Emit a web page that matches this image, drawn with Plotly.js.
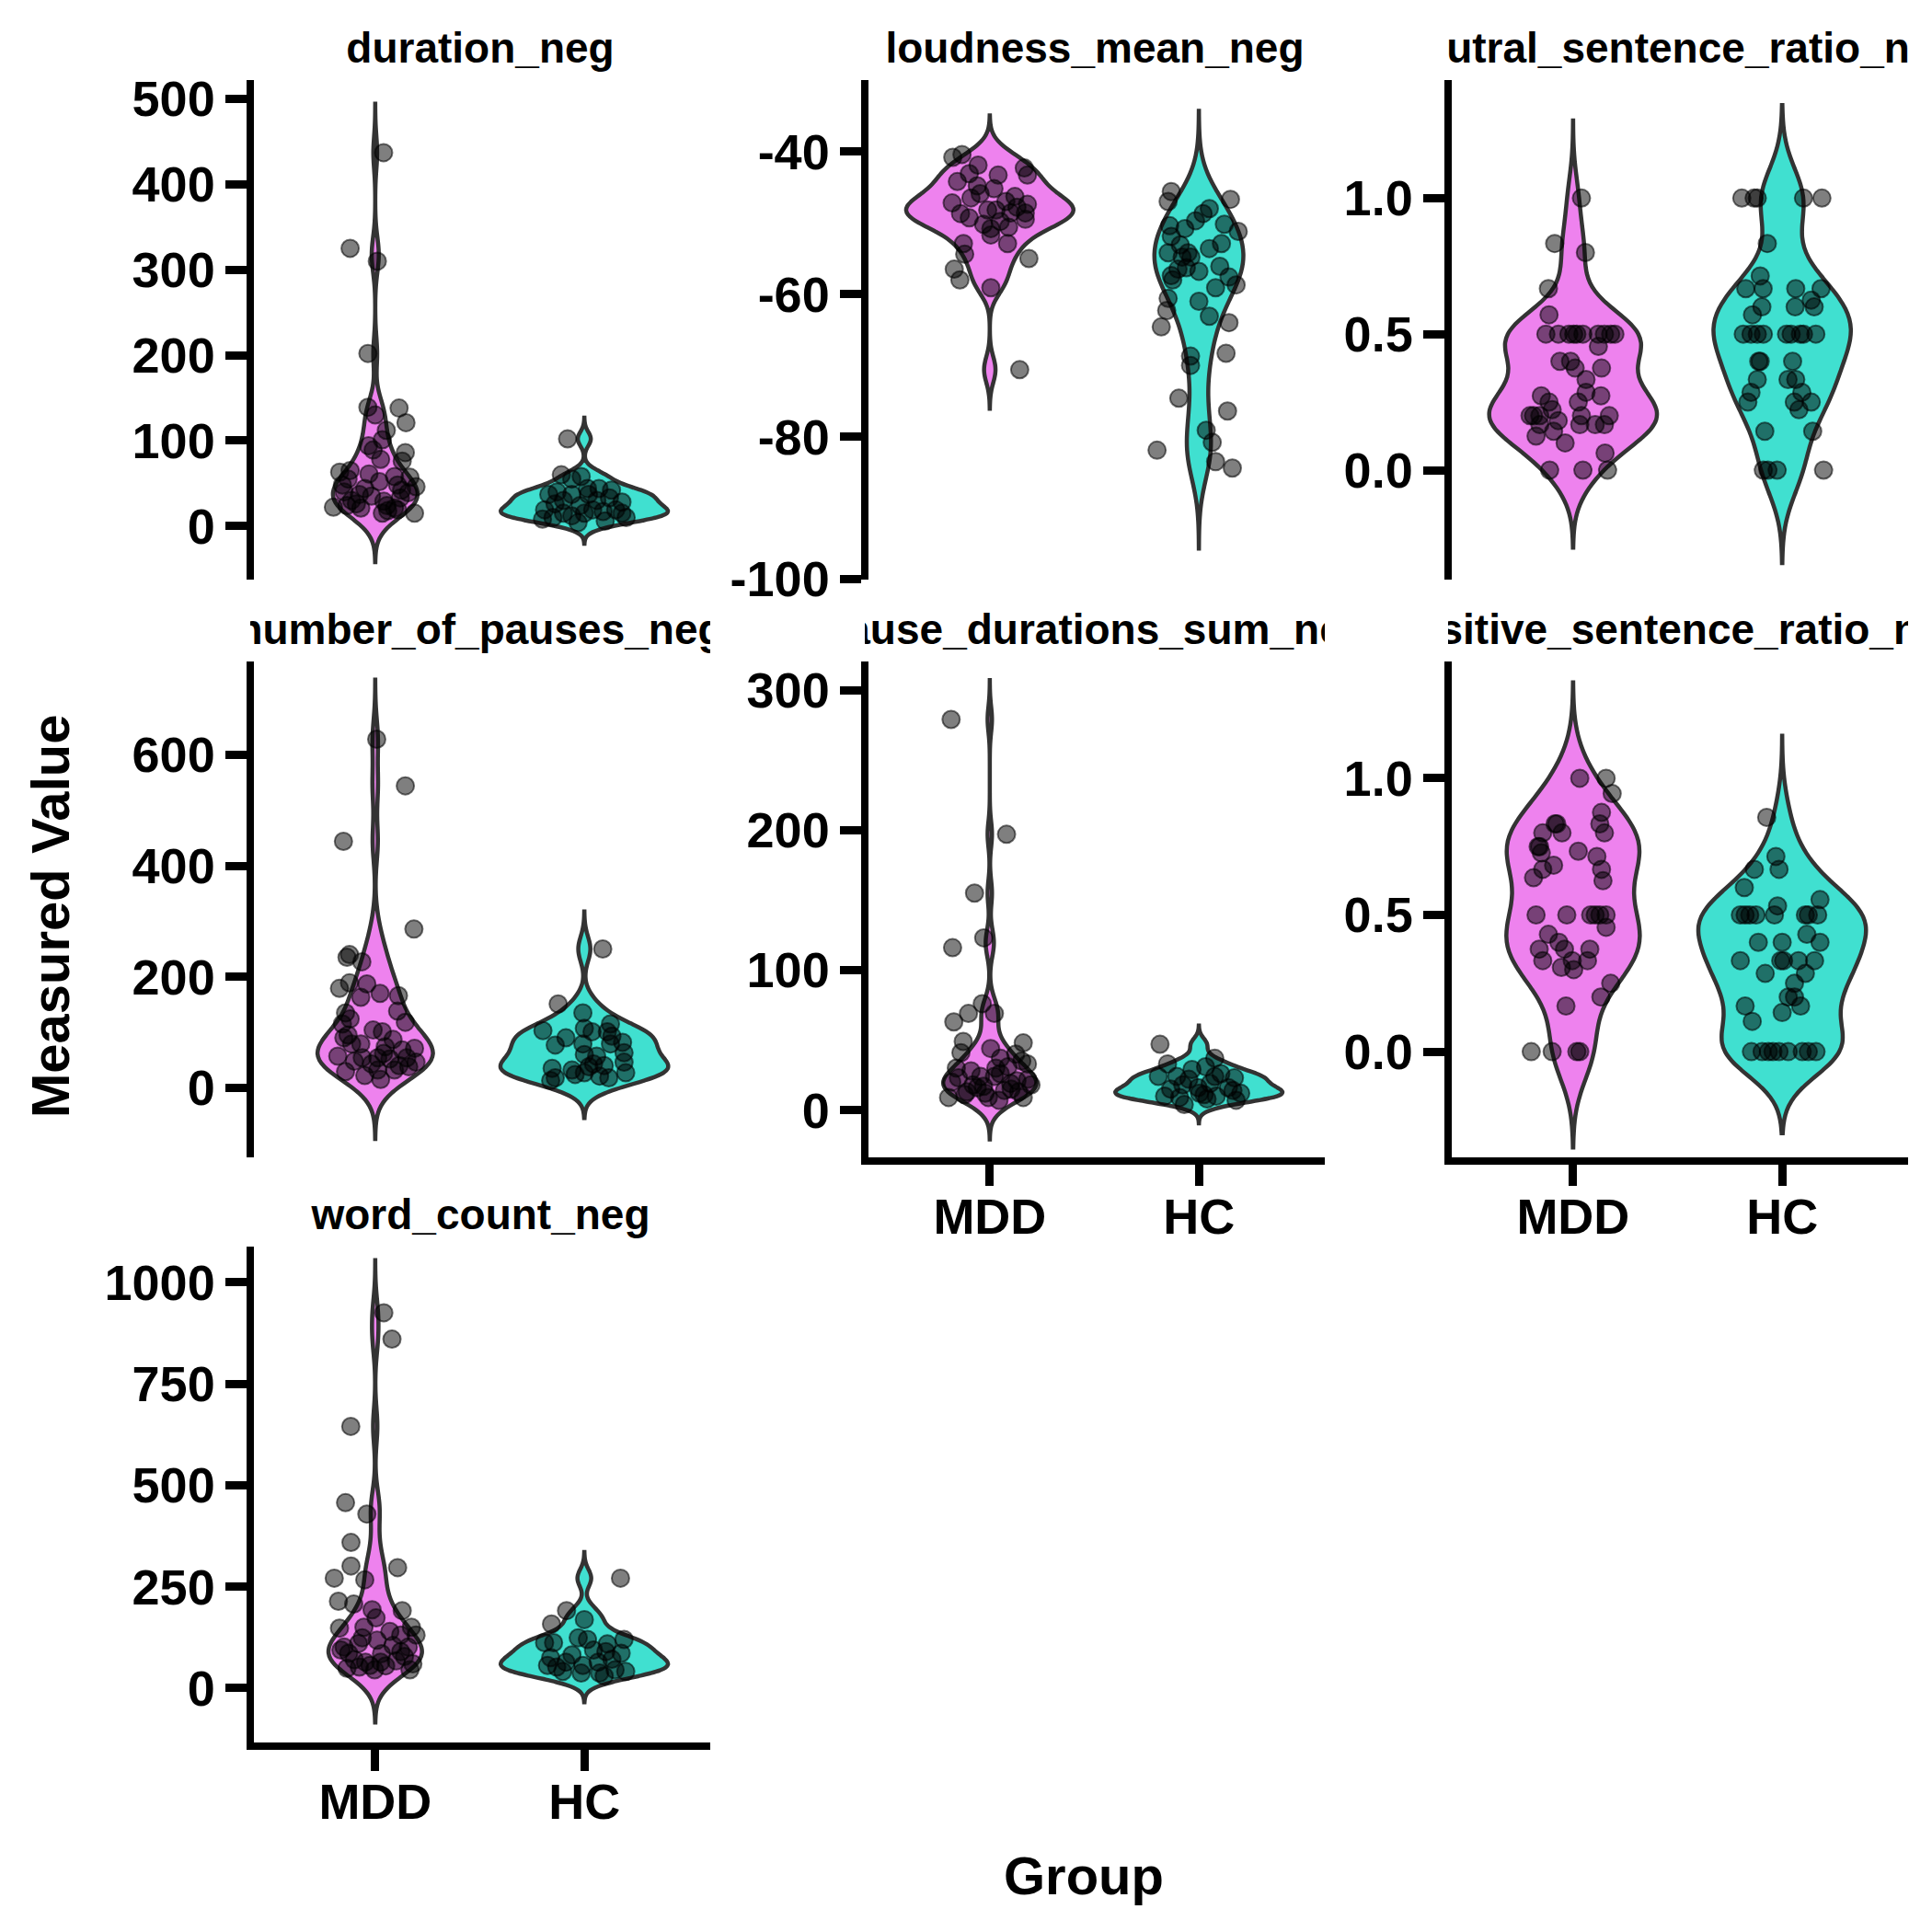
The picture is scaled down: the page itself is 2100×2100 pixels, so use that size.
<!DOCTYPE html>
<html>
<head>
<meta charset="utf-8">
<script src="https://cdn.plot.ly/plotly-3.0.1.min.js"></script>
<style>html, body { margin: 0; padding: 0; background: #fff; }</style>
</head>
<body>
<div id="chart" style="width:2100px;height:2100px"></div>
<script>
var groups = ['MDD', 'HC']; // x categories
var panelNames = ['duration_neg', 'loudness_mean_neg', 'neutral_sentence_ratio_neg', 'number_of_pauses_neg',
  'pause_durations_sum_neg', 'positive_sentence_ratio_neg', 'word_count_neg'];

var durationMdd = [437, 325, 310, 202, 139, 138, 130, 121, 112, 101, 86, 94, 89, 76, 78, 65, 61, 55, 58, 57, 48, 48, 46, 35, 30, 29, 22, 21, 15, 21, 15, 40, 42, 24, 19, 24, 37, 39, 18, 26, 33, 44, 52, 63];
var durationMddJit = [0.04, -0.12, 0.01, -0.035, -0.035, 0.114, 0, 0.147, 0.053, 0.034, 0.144, -0.032, -0.01, 0.129, 0.026, -0.12, -0.03, -0.13, 0.092, 0.166, -0.157, 0.107, 0.195, -0.018, -0.113, 0.041, -0.2, -0.069, 0.034, 0.092, 0.188, -0.149, 0.126, 0.056, 0.107, -0.135, -0.076, 0.158, 0.06, -0.09, 0.12, -0.05, 0.02, -0.17];
var durationHc = [102, 60, 58, 55, 37, 40, 30, 19, 8, 10, 15, 24, 44, 44, 42, 30, 33, 28, 17, 15, 10, 15, 12, 19, 19, 37, 37, 6, 26, 4];
var durationHcJit = [-0.08, -0.11, -0.015, -0.06, -0.17, -0.13, -0.1, -0.19, -0.2, -0.15, -0.1, -0.02, 0.015, 0.07, 0.13, 0.06, 0.12, 0.18, 0.09, 0.18, 0.2, 0, -0.06, 0.04, 0.15, 0.02, -0.06, 0.1, -0.14, -0.03];

var loudnessMdd = [-40.8, -40.4, -41.9, -43.1, -44.2, -44.8, -45.9, -46.5, -47.2, -48.7, -49.3, -48.2, -52.9, -54.4, -56.5, -58.0, -59.1, -43.3, -42.3, -43.3, -46.3, -47.0, -47.4, -48.2, -48.6, -48.6, -49.5, -50.8, -51.7, -50.6, -52.9, -55.0, -70.6, -49.8, -50.2, -47.8, -45.2];
var loudnessMddJit = [-0.177, -0.133, -0.056, -0.098, -0.155, -0.06, -0.046, -0.09, -0.18, -0.14, -0.098, -0.01, -0.126, -0.12, -0.17, -0.143, 0.005, 0.04, 0.165, 0.18, 0.12, 0.077, 0.18, 0.03, 0.1, 0.17, 0.17, 0.005, 0.005, 0.09, 0.085, 0.187, 0.143, 0.05, -0.03, 0.13, 0.02];
var loudnessHc = [-45.6, -47.0, -46.7, -48.0, -48.7, -49.7, -50.2, -51.2, -50.4, -50.8, -51.9, -52.9, -53.6, -53.1, -54.2, -54.2, -54.8, -54.8, -56.1, -56.5, -56.3, -56.8, -57.4, -58.0, -57.6, -58.7, -59.1, -60.6, -61.0, -62.3, -63.1, -64.0, -64.6, -68.3, -68.7, -70.0, -74.6, -76.4, -79.1, -80.8, -81.9, -83.5, -84.4];
var loudnessHcJit = [-0.132, -0.147, 0.151, 0.05, 0.02, -0.016, 0.122, 0.188, -0.14, -0.067, -0.132, 0.108, 0.05, -0.089, -0.147, -0.052, -0.08, -0.038, 0.1, -0.1, -0.06, 0, -0.132, -0.125, 0.144, 0.178, 0.08, -0.147, 0, -0.154, 0.05, 0.144, -0.18, 0.13, -0.04, -0.04, -0.096, 0.137, 0.035, 0.064, -0.2, 0.08, 0.16];

var neutralMdd = [1.0, 0.833, 0.8, 0.667, 0.571, 0.5, 0.5, 0.5, 0.5, 0.5, 0.5, 0.5, 0.5, 0.5, 0.5, 0.455, 0.4, 0.4, 0.375, 0.375, 0.333, 0.286, 0.273, 0.273, 0.25, 0.25, 0.2, 0.2, 0.2, 0.222, 0.2, 0.2, 0.182, 0.167, 0.167, 0.167, 0.167, 0.143, 0.125, 0.1, 0.0625, 0, 0, 0];
var neutralMddJit = [0.04, -0.088, 0.059, -0.118, -0.115, -0.13, -0.07, -0.02, 0.003, 0.018, 0.047, 0.12, 0.15, 0.18, 0.2, 0.121, -0.063, -0.012, 0.01, 0.136, 0.062, 0.062, -0.152, 0.133, 0.025, -0.115, -0.189, -0.206, -0.159, -0.1, 0.04, 0.173, -0.071, -0.159, 0.032, 0.106, 0.15, -0.093, -0.177, -0.038, 0.153, -0.112, 0.047, 0.165];
var neutralHc = [1.0, 1.0, 1.0, 1.0, 1.0, 0.833, 0.714, 0.667, 0.667, 0.667, 0.667, 0.625, 0.6, 0.6, 0.6, 0.571, 0.5, 0.5, 0.5, 0.5, 0.5, 0.5, 0.5, 0.5, 0.5, 0.4, 0.4, 0.4, 0.333, 0.333, 0.333, 0.286, 0.286, 0.25, 0.25, 0.25, 0.222, 0.143, 0.143, 0, 0, 0, 0];
var neutralHcJit = [-0.193, -0.134, -0.119, 0.102, 0.19, -0.071, -0.105, -0.174, -0.091, 0.065, 0.186, 0.139, -0.097, 0.062, 0.153, -0.142, -0.186, -0.149, -0.119, -0.09, 0.021, 0.043, 0.087, 0.102, 0.161, -0.112, -0.105, 0.05, -0.119, 0.028, 0.065, -0.149, 0.094, -0.164, 0.058, 0.139, 0.08, -0.083, 0.146, -0.09, -0.068, -0.024, 0.198];

var pausesMdd = [628, 544, 444, 286, 240, 235, 227, 189, 179, 187, 170, 166, 163, 135, 138, 124, 118, 115, 104, 101, 87, 90, 79, 79, 74, 68, 71, 57, 54, 54, 52, 54, 46, 29, 32, 32, 15, 40, 43, 22, 38, 48, 62, 95];
var pausesMddJit = [0.007, 0.144, -0.152, 0.185, -0.123, -0.135, -0.064, -0.123, -0.171, -0.04, 0.023, 0.111, -0.069, -0.142, 0.107, -0.12, 0.144, -0.157, -0.01, 0.034, 0.085, -0.15, -0.113, -0.069, 0.048, 0.129, 0.188, -0.179, -0.062, 0.012, 0.07, 0.151, 0.195, -0.142, 0.012, 0.092, 0.026, 0.114, -0.018, -0.05, 0.16, -0.1, 0.04, -0.13];
var pausesHc = [250, 151, 135, 103, 115, 107, 101, 101, 90, 77, 79, 79, 82, 63, 60, 57, 46, 35, 32, 43, 40, 27, 18, 13, 27, 21, 18, 24, 38, 93];
var pausesHcJit = [0.088, -0.125, -0.007, -0.198, 0.125, 0, 0.037, 0.11, -0.088, -0.139, -0.007, 0.125, 0.183, 0.19, 0, 0.059, 0.19, -0.154, -0.059, 0.044, 0.095, 0.198, -0.139, -0.161, 0, 0.073, 0.117, -0.044, 0.022, 0.132];

var pauseSumMdd = [279, 197, 155, 123, 116, 76, 69, 69, 63, 49, 48, 44, 41, 40, 35, 37, 30, 30, 31, 24, 20, 22, 24, 18, 15, 9, 12, 7, 9, 13, 13, 18, 9, 11, 14, 17, 21, 23, 26, 28, 33, 19, 16];
var pauseSumMddJit = [-0.185, 0.08, -0.073, -0.029, -0.178, -0.036, -0.102, 0.022, -0.172, -0.127, 0.16, 0.004, -0.138, 0.124, 0.153, 0.051, -0.16, 0.029, 0.087, -0.044, -0.182, 0.182, 0.022, -0.08, 0.102, -0.197, -0.022, 0.044, 0.16, -0.109, 0.138, 0.197, -0.007, -0.12, 0.07, -0.03, 0.13, -0.15, 0.05, -0.09, 0.18, 0.1, -0.06];
var pauseSumHc = [47, 37, 33, 24, 24, 29, 31, 26, 23, 18, 16, 19, 16, 12, 10, 9, 11, 10, 7, 4, 12, 22, 14, 15, 8, 24];
var pauseSumHcJit = [-0.186, 0.076, -0.15, -0.194, -0.106, -0.033, 0.032, 0.105, 0.17, -0.077, -0.004, 0.054, 0.141, 0.2, -0.164, -0.092, 0.025, 0.083, 0.178, -0.07, 0.003, -0.048, 0.163, -0.135, 0.039, 0.076];

var positiveMdd = [1.0, 1.0, 0.944, 0.875, 0.833, 0.8, 0.833, 0.833, 0.8, 0.8, 0.75, 0.75, 0.727, 0.733, 0.714, 0.682, 0.667, 0.667, 0.636, 0.625, 0.5, 0.5, 0.5, 0.5, 0.5, 0.5, 0.455, 0.429, 0.4, 0.375, 0.375, 0.375, 0.333, 0.333, 0.333, 0.308, 0.3, 0.25, 0.2, 0.167, 0, 0, 0, 0];
var positiveMddJit = [0.032, 0.158, 0.187, 0.136, 0.128, 0.15, -0.086, -0.078, -0.053, -0.145, -0.167, -0.16, -0.152, 0.025, 0.114, -0.093, 0.136, -0.145, -0.189, 0.143, -0.177, -0.03, 0.084, 0.106, 0.128, 0.158, 0.158, -0.118, -0.068, -0.162, -0.041, 0.08, -0.145, -0.004, 0.069, -0.056, 0.003, 0.18, 0.133, -0.034, -0.2, -0.1, 0.018, 0.032];
var positiveHc = [0.857, 0.714, 0.667, 0.667, 0.6, 0.556, 0.533, 0.5, 0.5, 0.5, 0.5, 0.5, 0.5, 0.5, 0.5, 0.429, 0.4, 0.4, 0.4, 0.333, 0.333, 0.333, 0.333, 0.333, 0.286, 0.286, 0.25, 0.2, 0.2, 0.167, 0.167, 0.143, 0.111, 0, 0, 0, 0, 0, 0, 0, 0, 0];
var positiveHcJit = [-0.074, -0.03, -0.133, -0.015, -0.181, 0.181, -0.022, -0.2, -0.177, -0.155, -0.125, -0.037, 0.111, 0.125, 0.17, 0.118, -0.114, 0, 0.181, -0.2, -0.007, 0.007, 0.078, 0.155, -0.081, 0.111, 0.059, 0.029, 0.059, 0.088, -0.177, 0, -0.143, -0.147, -0.096, -0.066, -0.044, -0.015, 0.029, 0.096, 0.125, 0.162];

var wordMdd = [925, 860, 645, 457, 429, 359, 301, 297, 271, 267, 214, 207, 193, 191, 173, 148, 150, 150, 140, 131, 124, 131, 118, 101, 105, 86, 90, 64, 64, 67, 49, 45, 45, 52, 56, 94, 101, 55, 70, 78, 85, 110, 60];
var wordMddJit = [0.041, 0.08, -0.117, -0.142, -0.04, -0.116, -0.116, 0.107, -0.196, -0.05, -0.176, -0.103, -0.015, 0.129, 0.004, -0.171, -0.054, 0.173, 0.07, 0.195, -0.062, 0.122, 0.009, -0.149, 0.085, -0.127, 0.122, -0.047, 0.026, 0.1, -0.135, -0.003, 0.166, -0.076, -0.025, -0.164, 0.158, 0.05, -0.1, 0.14, 0.03, -0.08, 0.18];
var wordHc = [271, 191, 158, 169, 120, 112, 112, 124, 120, 109, 94, 90, 86, 75, 64, 71, 56, 52, 56, 64, 41, 37, 37, 41, 30, 45, 82];
var wordHcJit = [0.173, -0.085, -0.157, 0, 0.19, -0.19, -0.147, -0.029, 0.015, 0.11, 0.044, 0.103, 0.176, -0.161, -0.088, 0.132, -0.176, -0.132, -0.007, 0.066, 0.198, -0.015, 0.073, -0.103, 0.095, 0.147, -0.059];

// y tick values and their labels per panel
var durationTicks = [0, 100, 200, 300, 400, 500];
var loudnessTicks = [-100, -80, -60, -40];
var ratioTicks = [0, 0.5, 1];
var ratioTickText = ['0.0', '0.5', '1.0'];
var pausesTicks = [0, 200, 400, 600];
var pauseSumTicks = [0, 100, 200, 300];
var wordTicks = [0, 250, 500, 750, 1000];

var FONT = 'Liberation Sans, Arial, Helvetica, sans-serif';
var fills = ['#EE82EE', '#40E0D0']; // violet, turquoise
var LW = 8; // axis line / tick width

// panel setup: data, ticks and the y range of every facet (range spans the panel edge to edge)
var panels = [
  {vals: [durationMdd, durationHc], jit: [durationMddJit, durationHcJit], ticks: durationTicks, range: [-67, 522]},
  {vals: [loudnessMdd, loudnessHc], jit: [loudnessMddJit, loudnessHcJit], ticks: loudnessTicks, range: [-100.57, -29.96]},
  {vals: [neutralMdd, neutralHc], jit: [neutralMddJit, neutralHcJit], ticks: ratioTicks, text: ratioTickText, range: [-0.416, 1.434]},
  {vals: [pausesMdd, pausesHc], jit: [pausesMddJit, pausesHcJit], ticks: pausesTicks, range: [-132, 768]},
  {vals: [pauseSumMdd, pauseSumHc], jit: [pauseSumMddJit, pauseSumHcJit], ticks: pauseSumTicks, range: [-36.4, 320.4]},
  {vals: [positiveMdd, positiveHc], jit: [positiveMddJit, positiveHcJit], ticks: ratioTicks, text: ratioTickText, range: [-0.4, 1.427]},
  {vals: [wordMdd, wordHc], jit: [wordMddJit, wordHcJit], ticks: wordTicks, range: [-143, 1088]}
];

// pixel edges of the facet grid (3 columns, 3 rows) on the 2100px page
var colEdges = [[271.5, 771.5], [939.5, 1439.5], [1573.5, 2073.5]];
var rowEdges = [[87, 634], [719, 1262], [1355, 1898]];
var W = 2100, H = 2100;

function quantile(s, p) { // type 7, like R
  var h = (s.length - 1) * p, lo = Math.floor(h);
  var hi = Math.min(lo + 1, s.length - 1);
  return s[lo] + (h - lo) * (s[hi] - s[lo]);
}

function nrd0(v) { // R's default bandwidth, which ggplot's violins use
  var s = v.slice().sort(function (a, b) { return a - b; });
  var n = s.length;
  var mean = s.reduce(function (a, b) { return a + b; }, 0) / n;
  var sd = Math.sqrt(s.reduce(function (a, b) { return a + (b - mean) * (b - mean); }, 0) / (n - 1));
  var lo = Math.min(sd, (quantile(s, 0.75) - quantile(s, 0.25)) / 1.34);
  if (!lo) lo = sd || Math.abs(s[0]) || 1;
  return 0.9 * lo * Math.pow(n, -0.2);
}

var traces = [];
var layout = {
  width: W, height: H,
  margin: {l: 0, r: 0, t: 0, b: 0},
  paper_bgcolor: '#fff', plot_bgcolor: '#fff',
  showlegend: false,
  violinmode: 'overlay', violingap: 0.2, violingroupgap: 0,
  annotations: []
};

panels.forEach(function (p, k) {
  var n = k + 1;
  var row = Math.floor(k / 3), col = k % 3;
  var bottom = (k >= 4); // facets that carry the x axis
  var ce = colEdges[col], re = rowEdges[row];
  // Plotly draws axis lines just outside the plot area: pull the area in by half a line
  // and shift the ranges so the data keep the same pixel positions
  var inset = LW / 2;
  var xd = [(ce[0] + inset) / W, ce[1] / W];
  var yd = [1 - (re[1] - inset) / H, 1 - re[0] / H];
  var xr = [-0.6 + inset * 2.2 / (ce[1] - ce[0]), 1.6];
  var yr = [p.range[0] + inset * (p.range[1] - p.range[0]) / (re[1] - re[0]), p.range[1]];
  var xa = 'x' + (n > 1 ? n : ''), ya = 'y' + (n > 1 ? n : '');

  p.vals.forEach(function (vals, gi) {
    var bw = nrd0(vals);
    traces.push({ // violin, not trimmed (extends 3 bandwidths past the data)
      type: 'violin', x0: gi, y: vals, xaxis: xa, yaxis: ya,
      name: groups[gi], scalegroup: 'panel' + n, scalemode: 'width',
      bandwidth: bw, spanmode: 'manual',
      span: [Math.min.apply(null, vals) - 3 * bw, Math.max.apply(null, vals) + 3 * bw],
      points: false, box: {visible: false}, meanline: {visible: false},
      fillcolor: fills[gi], line: {color: '#333333', width: 4.5},
      hoverinfo: 'skip'
    });
  });
  p.vals.forEach(function (vals, gi) {
    traces.push({ // jittered points on top
      type: 'scatter', mode: 'markers', xaxis: xa, yaxis: ya,
      x: vals.map(function (v, i) { return gi + p.jit[gi][i]; }), y: vals,
      marker: {size: 19, color: 'rgba(0,0,0,0.5)', line: {color: 'rgba(0,0,0,0.55)', width: 2}},
      hoverinfo: 'skip', cliponaxis: false
    });
  });

  layout['xaxis' + (n > 1 ? n : '')] = {
    domain: xd, anchor: ya, type: 'linear', range: xr,
    tickvals: [0, 1], ticktext: groups,
    showline: bottom, linecolor: '#000', linewidth: LW,
    ticks: bottom ? 'outside' : '', ticklen: 23, tickwidth: LW + 1, tickcolor: '#000',
    ticklabelstandoff: -13,
    showticklabels: bottom, showgrid: false, zeroline: false, fixedrange: true,
    tickfont: {family: FONT, size: 54, color: '#000', weight: 'bold'}
  };
  layout['yaxis' + (n > 1 ? n : '')] = {
    domain: yd, anchor: xa, range: yr,
    tickvals: p.ticks, ticktext: p.text || p.ticks.map(String),
    showline: true, linecolor: '#000', linewidth: LW,
    ticks: 'outside', ticklen: 23, tickwidth: LW + 1, tickcolor: '#000',
    showgrid: false, zeroline: false, fixedrange: true,
    tickfont: {family: FONT, size: 54, color: '#000', weight: 'bold'}
  };

  // strip title, clipped to the panel width like ggplot does
  layout.annotations.push({
    text: panelNames[k], xref: 'paper', yref: 'paper',
    x: (ce[0] + ce[1]) / 2 / W, y: 1 - re[0] / H, xanchor: 'center', yanchor: 'middle', yshift: 35,
    width: ce[1] - ce[0], align: 'center',
    showarrow: false, font: {family: FONT, size: 46, color: '#000', weight: 'bold'}
  });
});

// shared axis titles
layout.annotations.push({
  text: 'Measured Value', xref: 'paper', yref: 'paper', x: 54 / W, y: 1 - 996 / H,
  xanchor: 'center', yanchor: 'middle', textangle: -90, showarrow: false,
  font: {family: FONT, size: 58, color: '#000', weight: 'bold'}
});
layout.annotations.push({
  text: 'Group', xref: 'paper', yref: 'paper', x: 1178 / W, y: 1 - 2038 / H,
  xanchor: 'center', yanchor: 'middle', showarrow: false,
  font: {family: FONT, size: 58, color: '#000', weight: 'bold'}
});

Plotly.newPlot('chart', traces, layout, {displayModeBar: false, staticPlot: true});
</script>
</body>
</html>
